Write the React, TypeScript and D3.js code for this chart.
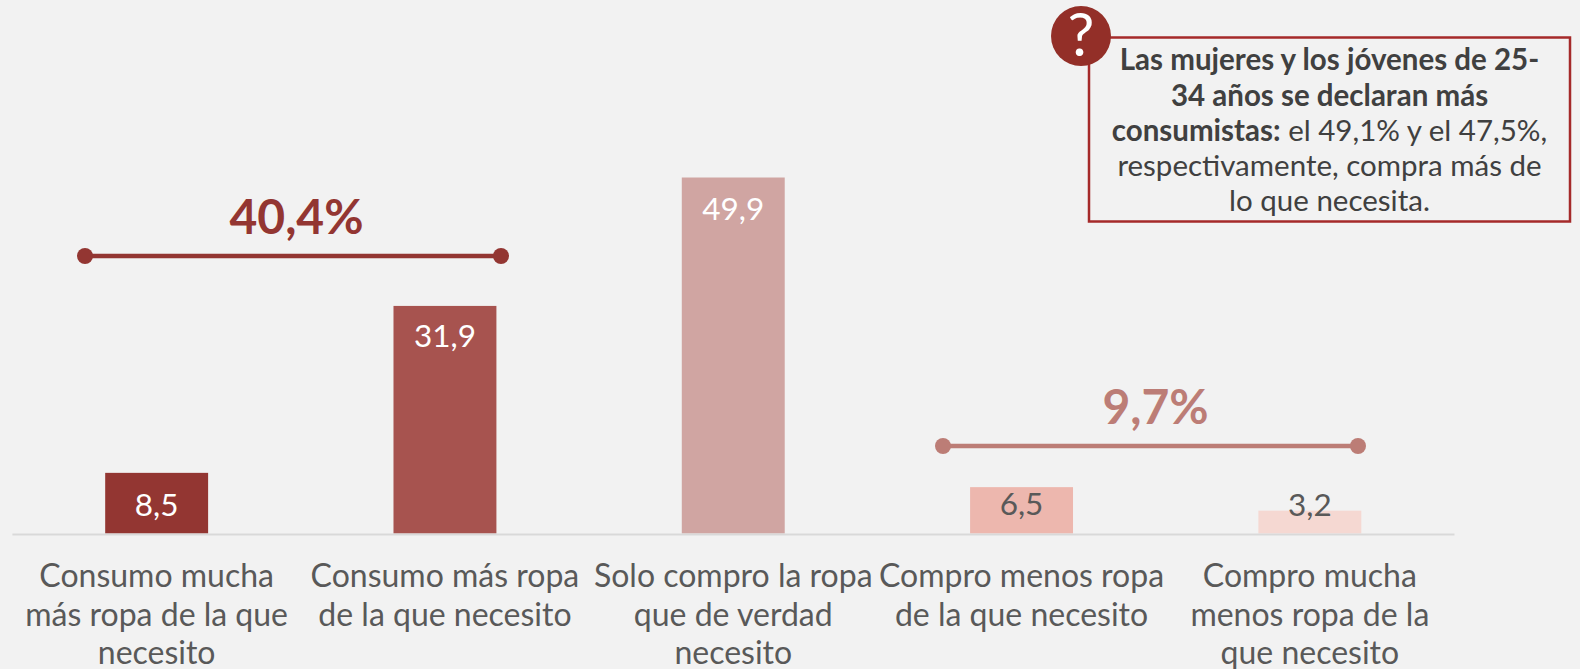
import React from "react";
import * as d3 from "d3";

const categories = ["c1", "c2", "c3", "c4", "c5"];
const values = [8.5, 31.9, 49.9, 6.5, 3.2];
const valueLabels = ["8,5", "31,9", "49,9", "6,5", "3,2"];
const barColors = ["#933632", "#a7534f", "#d0a5a2", "#edb7ae", "#f5d8d2"];
const labelColors = ["#ffffff", "#ffffff", "#ffffff", "#595959", "#595959"];
const labelOffsets = [43, 41, 42, 28, 5];
const categoryLines = [
  ["Consumo mucha", "más ropa de la que", "necesito"],
  ["Consumo más ropa", "de la que necesito"],
  ["Solo compro la ropa", "que de verdad", "necesito"],
  ["Compro menos ropa", "de la que necesito"],
  ["Compro mucha", "menos ropa de la", "que necesito"],
];
const font = "Lato, 'Open Sans', sans-serif";

export default function App() {
  const x = d3.scaleBand<string>().domain(categories).range([12.5, 1454]).paddingInner(0.643).paddingOuter(0.3215);
  const y = d3.scaleLinear().domain([0, 49.9]).range([533.5, 177.5]);
  const base = y(0);
  return (
    <svg width={1580} height={669} style={{ position: "absolute", left: 0, top: 0, background: "#f2f2f2", fontFamily: font }}>
      <rect x={0} y={0} width={1580} height={669} fill="#f2f2f2" />
      {categories.map((c, i) => (
        <g key={c}>
          <rect x={x(c)} y={y(values[i])} width={x.bandwidth()} height={base - y(values[i])} fill={barColors[i]} />
          <text x={x(c)! + x.bandwidth() / 2} y={y(values[i]) + labelOffsets[i]} textAnchor="middle" fontSize={31.5} fill={labelColors[i]}>{valueLabels[i]}</text>
          {categoryLines[i].map((l, j) => (
            <text key={j} x={x(c)! + x.bandwidth() / 2} y={587 + j * 38.6} textAnchor="middle" fontSize={32} fill="#595959">{l}</text>
          ))}
        </g>
      ))}
      <line x1={12.4} x2={1454.5} y1={base + 1} y2={base + 1} stroke="#d9d9d9" strokeWidth={2} />

      <line x1={85} x2={501} y1={256} y2={256} stroke="#933632" strokeWidth={4.5} />
      <circle cx={85} cy={256} r={8} fill="#933632" />
      <circle cx={501} cy={256} r={8} fill="#933632" />
      <text x={296.5} y={234} textAnchor="middle" fontSize={48} fontWeight={700} fill="#933632">40,4%</text>

      <line x1={943} x2={1358} y1={446} y2={446} stroke="#bc7d76" strokeWidth={4.5} />
      <circle cx={943} cy={446} r={8} fill="#bc7d76" />
      <circle cx={1358} cy={446} r={8} fill="#bc7d76" />
      <text x={1155.5} y={424} textAnchor="middle" fontSize={48} fontWeight={700} fill="#bc7d76">9,7%</text>

      <rect x={1089} y={37.5} width={481} height={184} fill="none" stroke="#a52a2a" strokeWidth={2.5} />
      <circle cx={1081} cy={36} r={30} fill="#932f28" />
      <text x={1081} y={56} textAnchor="middle" fontSize={60} fontWeight={400} fill="#ffffff">?</text>
      <g textAnchor="middle" fontSize={29.5} fill="#404040">
        <text x={1329.5} y={70} fontWeight={700}>Las mujeres y los jóvenes de 25-</text>
        <text x={1329.5} y={105.5} fontWeight={700}>34 años se declaran más</text>
        <text x={1329.5} y={140.5}><tspan fontWeight={700}>consumistas:</tspan> el 49,1% y el 47,5%,</text>
        <text x={1329.5} y={176}>respectivamente, compra más de</text>
        <text x={1329.5} y={211}>lo que necesita.</text>
      </g>
    </svg>
  );
}
